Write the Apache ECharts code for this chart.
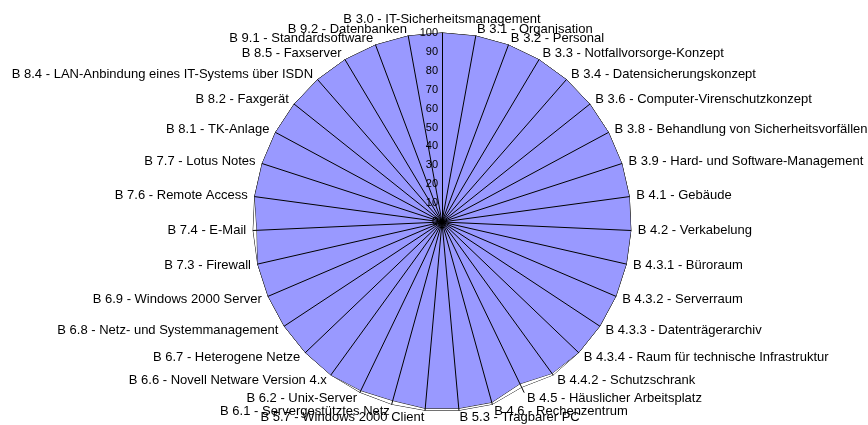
<!DOCTYPE html>
<html><head><meta charset="utf-8">
<script src="https://cdn.jsdelivr.net/npm/echarts@6/dist/echarts.min.js"></script>
<style>html,body{margin:0;padding:0;background:#fff}#c{width:868px;height:425px}</style>
</head><body><div id="c"></div>
<script>
const categories = [
  "B 3.0 - IT-Sicherheitsmanagement",
  "B 3.1 - Organisation",
  "B 3.2 - Personal",
  "B 3.3 - Notfallvorsorge-Konzept",
  "B 3.4 - Datensicherungskonzept",
  "B 3.6 - Computer-Virenschutzkonzept",
  "B 3.8 - Behandlung von Sicherheitsvorfällen",
  "B 3.9 - Hard- und Software-Management",
  "B 4.1 - Gebäude",
  "B 4.2 - Verkabelung",
  "B 4.3.1 - Büroraum",
  "B 4.3.2 - Serverraum",
  "B 4.3.3 - Datenträgerarchiv",
  "B 4.3.4 - Raum für technische Infrastruktur",
  "B 4.4.2 - Schutzschrank",
  "B 4.5 - Häuslicher Arbeitsplatz",
  "B 4.6 - Rechenzentrum",
  "B 5.3 - Tragbarer PC",
  "B 5.7 - Windows 2000 Client",
  "B 6.1 - Servergestütztes Netz",
  "B 6.2 - Unix-Server",
  "B 6.6 - Novell Netware Version 4.x",
  "B 6.7 - Heterogene Netze",
  "B 6.8 - Netz- und Systemmanagement",
  "B 6.9 - Windows 2000 Server",
  "B 7.3 - Firewall",
  "B 7.4 - E-Mail",
  "B 7.6 - Remote Access",
  "B 7.7 - Lotus Notes",
  "B 8.1 - TK-Anlage",
  "B 8.2 - Faxgerät",
  "B 8.4 - LAN-Anbindung eines IT-Systems über ISDN",
  "B 8.5 - Faxserver",
  "B 9.1 - Standardsoftware",
  "B 9.2 - Datenbanken"
];
const sollValues = [100,100,100,100,100,100,100,100,100,100,100,100,100,100,100,97,100,100,100,100,100,100,100,100,100,100,100,100,100,100,100,100,100,100,100];
const istValues  = [100,100,100,100,100,100,100,100,100,100,100,100,100,100,99,95,99,99,99,98,99,100,100,100,100,100,98,100,100,100,100,100,100,100,100];
const axisMax = 100;
const axisStep = 10;

// ECharts radar runs counter-clockwise; reorder so categories run clockwise
const order = [0].concat(categories.map((_, i) => i).slice(1).reverse());
const reorder = arr => order.map(i => arr[i]);

const indicator = order.map((idx, k) => {
  const o = { name: categories[idx], min: 0, max: axisMax };
  if (k === 0) o.axisLabel = { show: true };
  return o;
});

const FONT = 'Liberation Sans, Arial, sans-serif';
const chart = echarts.init(document.getElementById('c'), null, { renderer: 'canvas' });
chart.setOption({
  animation: false,
  radar: {
    z: 5,
    center: [442, 222],
    radius: 189,
    startAngle: 90,
    shape: 'polygon',
    splitNumber: axisMax / axisStep,
    indicator: indicator,
    nameGap: 7,
    axisName: { color: '#000', fontFamily: FONT, fontSize: 13 },
    axisLine: { show: true, lineStyle: { color: '#000', width: 1 } },
    axisTick: { show: false },
    axisLabel: { show: false, color: '#000', fontSize: 11, fontFamily: FONT, margin: 4 },
    splitLine: { show: false },
    splitArea: { show: false }
  },
  series: [{
    type: 'radar',
    z: 1,
    symbol: 'none',
    silent: true,
    data: [
      { name: 'Soll', value: reorder(sollValues), lineStyle: { color: '#000', width: 1 }, areaStyle: { color: '#ffffff', opacity: 1 } },
      { name: 'Ist', value: reorder(istValues), lineStyle: { color: '#222', width: 1 }, areaStyle: { color: '#9999ff', opacity: 1 } }
    ]
  }]
});
</script></body></html>
